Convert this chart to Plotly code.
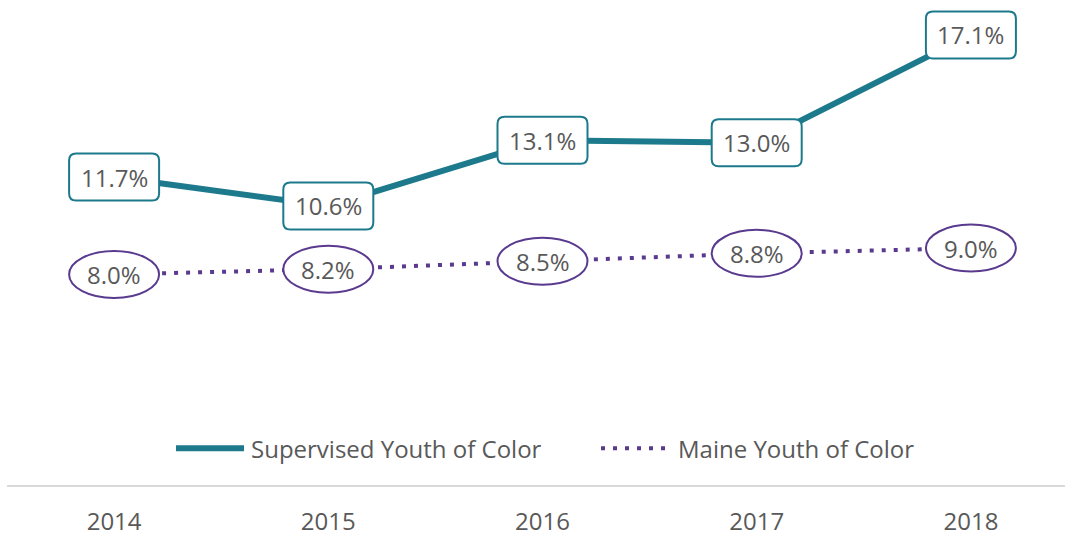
import plotly.graph_objects as go

years = ["2014", "2015", "2016", "2017", "2018"]
supervised = [11.7, 10.6, 13.1, 13.0, 17.1]
maine = [8.0, 8.2, 8.5, 8.8, 9.0]
series_names = ["Supervised Youth of Color", "Maine Youth of Color"]

TEAL = "#1D7A8C"
PURPLE = "#5A3A8E"
TEXT = "#595959"
FONT = "Open Sans"
FS = 24

xs = list(range(len(years)))

fig = go.Figure()
fig.add_trace(go.Scatter(
    x=xs, y=maine, mode="lines", name=series_names[1],
    line=dict(color=PURPLE, width=4, dash="4px,8px"), hoverinfo="skip",
))
fig.add_trace(go.Scatter(
    x=xs, y=supervised, mode="lines", name=series_names[0],
    line=dict(color=TEAL, width=6), hoverinfo="skip",
))


def rounded_rect(w, h, r):
    a, b = w / 2, h / 2
    return (f"M{-a + r},{-b} L{a - r},{-b} Q{a},{-b} {a},{-b + r} "
            f"L{a},{b - r} Q{a},{b} {a - r},{b} L{-a + r},{b} "
            f"Q{-a},{b} {-a},{b - r} L{-a},{-b + r} Q{-a},{-b} {-a + r},{-b} Z")


shapes = []
annotations = []
for x, v in zip(xs, supervised):
    shapes.append(dict(
        type="path", xref="x", yref="y", xsizemode="pixel", ysizemode="pixel",
        xanchor=x, yanchor=v, path=rounded_rect(90, 47, 7),
        line=dict(color=TEAL, width=2), fillcolor="white", layer="above",
    ))
    annotations.append(dict(x=x, y=v, xref="x", yref="y", text=f"{v:.1f}%",
                            showarrow=False, yanchor="middle",
                            font=dict(size=FS, color=TEXT, family=FONT)))
for x, v in zip(xs, maine):
    shapes.append(dict(
        type="circle", xref="x", yref="y", xsizemode="pixel", ysizemode="pixel",
        xanchor=x, yanchor=v, x0=-45, x1=45, y0=-23.5, y1=23.5,
        line=dict(color=PURPLE, width=2), fillcolor="white", layer="above",
    ))
    annotations.append(dict(x=x, y=v, xref="x", yref="y", text=f"{v:.1f}%",
                            showarrow=False, yanchor="middle",
                            font=dict(size=FS, color=TEXT, family=FONT)))

# legend drawn inside the plot area, below the lines
W, H, L, B = 1065, 537, 7, 50
pw, ph = W - L, H - B


def px_x(p):
    return (p - L) / pw


def px_y(p):
    return (ph - p) / ph


leg_y = px_y(450)
shapes.append(dict(type="line", xref="paper", yref="paper",
                   x0=px_x(176), x1=px_x(244), y0=leg_y, y1=leg_y,
                   line=dict(color=TEAL, width=6)))
shapes.append(dict(type="line", xref="paper", yref="paper",
                   x0=px_x(601), x1=px_x(665), y0=leg_y, y1=leg_y,
                   line=dict(color=PURPLE, width=4, dash="4px,8px")))
annotations.append(dict(x=px_x(249), y=leg_y, xref="paper", yref="paper",
                        text=series_names[0], showarrow=False,
                        xanchor="left", yanchor="middle",
                        font=dict(size=FS, color=TEXT, family=FONT)))
annotations.append(dict(x=px_x(676), y=leg_y, xref="paper", yref="paper",
                        text=series_names[1], showarrow=False,
                        xanchor="left", yanchor="middle",
                        font=dict(size=FS, color=TEXT, family=FONT)))

fig.update_layout(
    width=W, height=H,
    margin=dict(l=L, r=0, t=0, b=B),
    paper_bgcolor="white", plot_bgcolor="white",
    showlegend=False,
    shapes=shapes, annotations=annotations,
    xaxis=dict(
        range=[-0.5, -0.5 + pw / 214.2],
        tickvals=xs, ticktext=years,
        showgrid=False, zeroline=False,
        showline=True, linecolor="#D9D9D9", linewidth=2,
        ticks="", ticklabelstandoff=14,
        tickfont=dict(size=FS, color=TEXT, family=FONT),
        fixedrange=True,
    ),
    yaxis=dict(
        range=[0, ph / 26.43],
        visible=False, fixedrange=True,
    ),
)

fig.write_html("out.html", config={"displayModeBar": False})
